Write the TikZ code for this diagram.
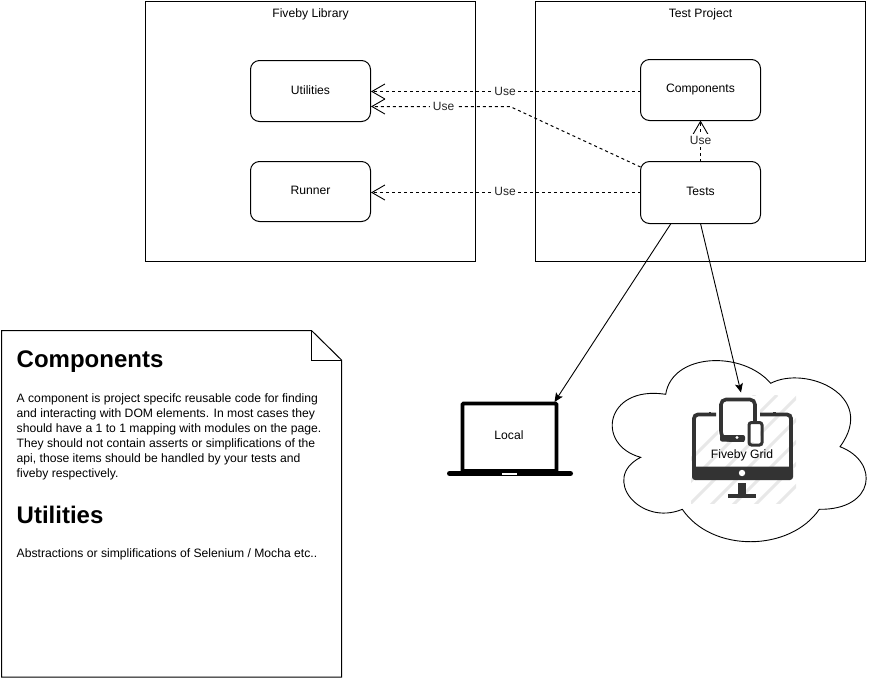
\documentclass[tikz,border=0pt]{standalone}
\usepackage{fontspec}
\setmainfont{Liberation Sans}
\usetikzlibrary{arrows.meta}
\tikzset{
  frame/.style={draw=black,line width=1pt,fill=white,minimum width=330pt,minimum height=260pt,inner sep=0pt,outer sep=0pt},
  modbox/.style={draw=black,line width=1pt,fill=white,rounded corners=9pt,minimum width=120pt,minimum height=61pt,inner sep=0pt,outer sep=0pt,font=\fontsize{12.15}{14}\selectfont},
  lbl/.style={font=\fontsize{12.15}{14}\selectfont,text=black,inner sep=0pt,outer sep=0pt},
  uselbl/.style={font=\fontsize{12}{14}\selectfont,fill=white,inner sep=0.5pt,text=black!85},
  usearrow/.style={draw=black,line width=1pt,dash pattern=on 3pt off 3pt,-{Straight Barb[length=13pt,width=15pt,line width=0.9pt]}},
  flow/.style={draw=black,line width=0.9pt,-{Stealth[length=9pt,width=8pt,inset=2pt]}},
  heading/.style={font=\fontsize{24}{28}\selectfont\bfseries,anchor=base west,inner sep=0pt},
  body/.style={font=\fontsize{12.15}{15}\selectfont,anchor=base west,inner sep=0pt},
  icon/.style={draw=black!80,line width=4pt,fill=none},
  hatch/.style={draw=black!9,line width=3pt}
}
\begin{document}
\begin{tikzpicture}[x=1pt,y=-1pt]
\useasboundingbox (0,0) rectangle (877,681);
\fill[white] (0,0) rectangle (877,681);
% containers
\node[frame] (lib) at (310.5,131.5) {};
\node[frame] (proj) at (700.5,131.5) {};
\node[lbl] (libt) at (310.5,14.5) {Fiveby Library};
\node[lbl] (projt) at (700.5,14.5) {Test Project};
% modules
\node[modbox] (util) at (310.5,91) {\raisebox{1.5pt}{Utilities}};
\node[modbox,minimum height=60pt] (run) at (310.5,191.5) {\raisebox{2pt}{Runner}};
\node[modbox] (comp) at (700.5,90) {\raisebox{2pt}{Components}};
\node[modbox,minimum height=62pt] (tests) at (700.5,192.5) {\raisebox{2pt}{Tests}};
% free ends
\coordinate (tA) at (640.5,167);
\coordinate (bend) at (510,106.5);
\coordinate (uB) at (371,106.5);
\coordinate (uA) at (371,91.5);
\coordinate (rA) at (371,192.5);
\coordinate (cA) at (640.5,91.5);
% use connectors
\draw[usearrow] (cA) -- (uA);
\node[uselbl] (u1) at (505,91) {Use};
\draw[usearrow] (tA) -- (bend) -- (uB);
\node[uselbl,inner sep=3pt] (u2) at (443.5,106) {Use};
\draw[usearrow] (tests.west) -- (rA);
\node[uselbl] (u3) at (505,191.5) {Use};
\draw[usearrow] (tests.north) -- (comp.south);
\node[uselbl,inner sep=2pt] (u4) at (700.5,140) {Use};
% note
\draw[line width=1pt,fill=white] (1.5,330.5) -- (311.5,330.5) -- (341.5,360) -- (341.5,677) -- (1.5,677) -- cycle;
\draw[line width=0.8pt] (311.5,330.5) -- (311.5,360) -- (341.5,360);
\node[heading] (h1) at (16.5,367) {Components};
\node[body,align=left,anchor=north west] (p1) at (16.5,393.5) {A component is project specifc reusable code for finding\\and interacting with DOM elements. In most cases they\\should have a 1 to 1 mapping with modules on the page.\\They should not contain asserts or simplifications of the\\api, those items should be handled by your tests and\\fiveby respectively.};
\node[heading] (h2) at (16.5,523) {Utilities};
\node[body] (p2) at (16.5,557) {Abstractions or simplifications of Selenium / Mocha etc..};
% cloud
\draw[line width=0.9pt,fill=white] (665.7,394.3)
  .. controls (672,353) and (742,350) .. (770.7,383.3)
  .. controls (805,365) and (878,395) .. (840,446.7)
  .. controls (880,462) and (875,510) .. (819.3,509.3)
  .. controls (790,552) and (712,553) .. (682.3,509.3)
  .. controls (640,527) and (600,478) .. (640.7,457.3)
  .. controls (595,445) and (605,385) .. (665.7,394.3) -- cycle;
% grid icon
\begin{scope}
\clip (691,395) rectangle (796,503);
\foreach \k in {0,...,9} {
  \draw[hatch] ({640+\k*22},510) -- ({640+\k*22+115},395);
}
\end{scope}
\draw[icon,line width=3.8pt,rounded corners=4pt] (716,414.5) -- (694,414.5) -- (694,478) -- (791,478) -- (791,414.5) -- (759,414.5);
\fill[black!80,rounded corners=3pt] (692,466.5) rectangle (793,480);
\fill[white] (742,473) circle (3.2pt);
\fill[black!80] (738,483) rectangle (746,495);
\fill[black!80] (728,494) rectangle (756,497.5);
\fill[black!80] (708.5,413) rectangle (711,411.5);
\fill[black!80] (773,413) rectangle (775.5,411.5);
% tablet
\fill[white] (718,396) rectangle (760,442);
\draw[icon,line width=3.6pt,rounded corners=5pt] (744,440) -- (725,440) -- (721,436) -- (721,399.5) -- (755,399.5) -- (755,421);
\fill[black!80,rounded corners=2pt] (720,435) rectangle (745,441.5);
\fill[white] (737,437.5) circle (1.6pt);
% phone
\draw[icon,line width=3pt,rounded corners=2.5pt] (749,422.5) rectangle (762,445);
\node[lbl] (grid) at (742,455) {Fiveby Grid};
% laptop
\draw[line width=3.6pt,fill=white,rounded corners=1pt] (462.5,403.5) rectangle (556.5,471);
\draw[line width=5pt,line cap=round] (449.5,473.5) -- (570.5,473.5);
\fill[white] (502,472.5) rectangle (517,474.5);
\node[lbl] (local) at (509,435) {Local};
% flows
\coordinate (lT) at (554.5,402);
\coordinate (gT) at (741,392.5);
\coordinate (tL) at (671,223.5);
\coordinate (tG) at (700.5,223.5);
\draw[flow] (tL) -- (lT);
\draw[flow] (tG) -- (gT);
\end{tikzpicture}
\end{document}
